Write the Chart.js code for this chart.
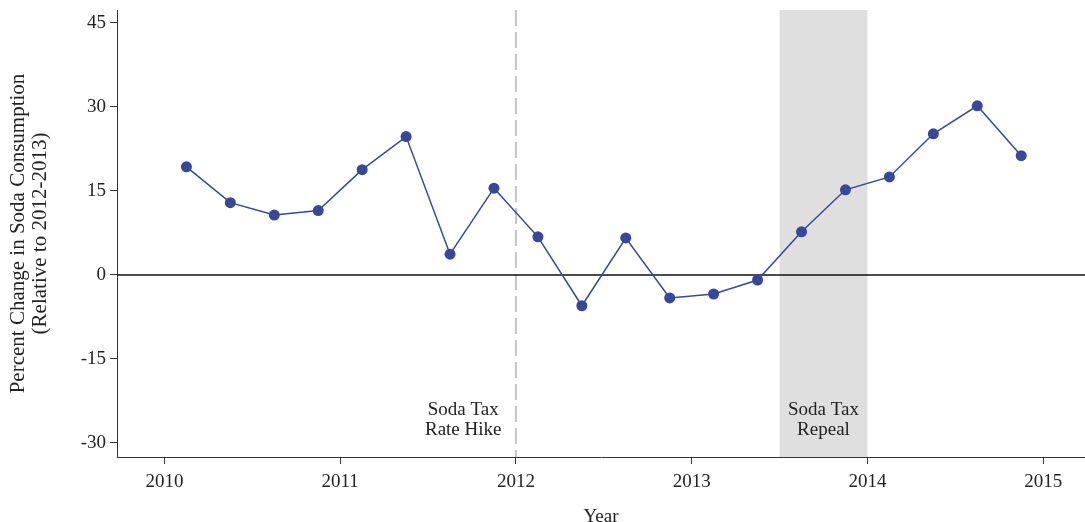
<!DOCTYPE html>
<html>
<head>
<meta charset="utf-8">
<script src="https://cdn.jsdelivr.net/npm/chart.js@4.4.0/dist/chart.umd.min.js"></script>
<style>
  html, body { margin: 0; padding: 0; background: #fff; }
</style>
</head>
<body>
<canvas id="sodaChart" width="1085" height="522"></canvas>
<script>
// quarterly observations (year fraction) and % change vs 2012-2013
const quarters = [
  2010.125, 2010.375, 2010.625, 2010.875,
  2011.125, 2011.375, 2011.625, 2011.875,
  2012.125, 2012.375, 2012.625, 2012.875,
  2013.125, 2013.375, 2013.625, 2013.875,
  2014.125, 2014.375, 2014.625, 2014.875
]
const sodaChange = [
  19.3, 12.9, 10.7, 11.5,
  18.8, 24.7, 3.7, 15.5,
  6.8, -5.5, 6.6, -4.1,
  -3.4, -0.9, 7.7, 15.2,
  17.5, 25.2, 30.2, 21.3
]
const yearTicks = [2010, 2011, 2012, 2013, 2014, 2015]
const changeTicks = [-30, -15, 0, 15, 30, 45]

const rateHikeYear = 2012
const repealWindow = [2013.5, 2014]
const eventLabels = [
  { x: 2011.7, y: -25.0, text: 'Soda Tax' },
  { x: 2011.7, y: -28.6, text: 'Rate Hike' },
  { x: 2013.75, y: -25.0, text: 'Soda Tax' },
  { x: 2013.75, y: -28.6, text: 'Repeal' }
]

const FONT = '"Liberation Serif", "Times New Roman", serif'
const INK = '#222'
const AXIS = '#333'

// shaded repeal window, hike marker, zero line and their labels
const eventsPlugin = {
  id: 'events',
  beforeDatasetsDraw(chart) {
    const { ctx, chartArea: a, scales: { x, y } } = chart
    ctx.save()

    const x0 = x.getPixelForValue(repealWindow[0])
    const x1 = x.getPixelForValue(repealWindow[1])
    ctx.fillStyle = '#dfdfdf'
    ctx.fillRect(x0, a.top, x1 - x0, a.bottom - a.top)

    const xh = x.getPixelForValue(rateHikeYear)
    ctx.strokeStyle = '#c4c4c4'
    ctx.lineWidth = 2
    ctx.setLineDash([16, 6])
    ctx.beginPath()
    ctx.moveTo(xh, a.top)
    ctx.lineTo(xh, a.bottom)
    ctx.stroke()
    ctx.setLineDash([])

    const y0 = y.getPixelForValue(0)
    ctx.strokeStyle = '#111'
    ctx.lineWidth = 1.5
    ctx.beginPath()
    ctx.moveTo(a.left, y0)
    ctx.lineTo(a.right, y0)
    ctx.stroke()

    ctx.fillStyle = INK
    ctx.font = '19px ' + FONT
    ctx.textAlign = 'center'
    ctx.textBaseline = 'alphabetic'
    eventLabels.forEach(l => {
      ctx.fillText(l.text, x.getPixelForValue(l.x), y.getPixelForValue(l.y))
    })
    ctx.restore()
  }
}

new Chart(document.getElementById('sodaChart'), {
  type: 'line',
  data: {
    datasets: [{
      data: quarters.map((q, i) => ({ x: q, y: sodaChange[i] })),
      borderColor: '#35489a',
      backgroundColor: '#35489a',
      borderWidth: 1.5,
      pointRadius: 5.5,
      pointBorderWidth: 0,
      tension: 0
    }]
  },
  options: {
    responsive: false,
    animation: false,
    layout: { autoPadding: false, padding: { top: 10, right: 0, bottom: 0, left: 0 } },
    plugins: {
      legend: { display: false },
      tooltip: { enabled: false }
    },
    scales: {
      x: {
        type: 'linear',
        min: 2009.73,
        max: 2015.238,
        afterBuildTicks: s => { s.ticks = yearTicks.map(v => ({ value: v })) },
        afterFit: s => { s.height = 65; s.paddingLeft = 0; s.paddingRight = 0 },
        grid: { drawOnChartArea: false, drawTicks: true, tickLength: 7, tickColor: AXIS },
        border: { display: true, color: AXIS, width: 1 },
        ticks: {
          color: INK,
          padding: 7,
          maxRotation: 0,
          font: { family: FONT, size: 19 },
          callback: v => String(v)
        },
        title: {
          display: true,
          text: 'Year',
          color: INK,
          padding: { top: 0, bottom: 0 },
          font: { family: FONT, size: 19, lineHeight: 0.55 }
        }
      },
      y: {
        min: -32.5,
        max: 47.3,
        afterBuildTicks: s => { s.ticks = changeTicks.map(v => ({ value: v })) },
        afterFit: s => { s.width = 117; s.paddingTop = 0; s.paddingBottom = 0 },
        grid: { drawOnChartArea: false, drawTicks: true, tickLength: 7, tickColor: AXIS },
        border: { display: true, color: AXIS, width: 1 },
        ticks: {
          color: INK,
          padding: 4,
          font: { family: FONT, size: 19 },
          callback: v => String(v)
        },
        title: {
          display: true,
          text: ['Percent Change in Soda Consumption', '(Relative to 2012-2013)'],
          color: INK,
          padding: { top: 7, bottom: 0 },
          font: { family: FONT, size: 21, lineHeight: 1.05 }
        }
      }
    }
  },
  plugins: [eventsPlugin]
})
</script>
</body>
</html>
